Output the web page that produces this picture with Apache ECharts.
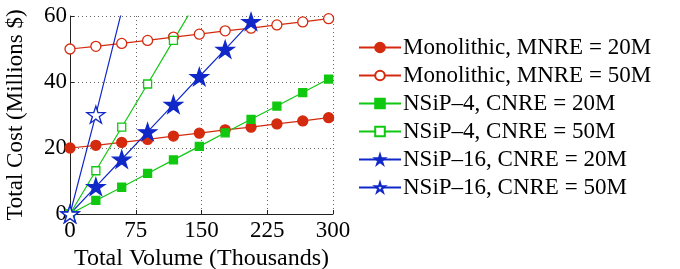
<!DOCTYPE html>
<html><head><meta charset="utf-8">
<script src="https://cdn.jsdelivr.net/npm/echarts@6/dist/echarts.min.js"></script>
<style>html,body{margin:0;padding:0;background:#fff}#c{width:680px;height:269px}</style>
</head><body><div id="c"></div>
<script>
const volumes = [0, 29.5, 59, 88.5, 118, 147.5, 177, 206.5, 236, 265.5, 295];
const mono20 = [20, 20.8, 21.7, 22.6, 23.6, 24.5, 25.5, 26.3, 27.3, 28.2, 29.2];
const mono50 = [50, 50.8, 51.7, 52.6, 53.6, 54.5, 55.5, 56.3, 57.3, 58.2, 59.2];
const nsip4_20 = [0, 4.1, 8.1, 12.3, 16.4, 20.5, 24.6, 28.7, 32.7, 36.8, 40.9];
const nsip4_50 = [0, 13.1, 26.3, 39.4, 52.6, 65.8];
const nsip16_20 = [0, 8.3, 16.6, 24.9, 33.2, 41.6, 49.9, 58.3];
const nsip16_50 = [0, 30.1, 61.5];
const seriesNames = ['Monolithic, MNRE = 20M','Monolithic, MNRE = 50M','NSiP\u20134, CNRE = 20M','NSiP\u20134, CNRE = 50M','NSiP\u201316, CNRE = 20M','NSiP\u201316, CNRE = 50M'];
const xTicks = [0, 75, 150, 225, 300];
const yTicks = [0, 20, 40, 60];

const RED = '#d42a0e', GREEN = '#10c810', BLUE = '#1028c8';
const STAR = 'path://M100,0 L122.45,69.1 L195.1,69.1 L136.3,111.8 L158.8,180.9 L100,138.2 L41.2,180.9 L63.7,111.8 L4.9,69.1 L77.55,69.1 Z';
const FONT = '"Liberation Serif", "DejaVu Serif", serif';

function pairs(ys){ return ys.map((y,i)=>[volumes[i], y]); }
function mk(name, ys, color, symbol, size, filled){
  return {
    name, type:'line', data: pairs(ys), clip:true,
    symbol, symbolSize:size, showSymbol:true,
    lineStyle:{color, width:1.2},
    itemStyle:{color: filled ? color : '#fff', borderColor:color, borderWidth:1.3},
    emphasis:{disabled:true}, animation:false, z: 3
  };
}
const chart = echarts.init(document.getElementById('c'), null, {renderer:'canvas'});
chart.setOption({
  backgroundColor:'#fff',
  animation:false,
  grid:{left:70, top:16, right:347, bottom:55, containLabel:false, outerBoundsMode:'none'},
  legend:{
    orient:'vertical', left:353, top:31,
    itemWidth:42, itemHeight:12, itemGap:5,
    textStyle:{fontFamily:FONT, fontSize:23, color:'#000', padding:[0,0,0,-3]},
    data: seriesNames
  },
  xAxis:{
    type:'value', min:0, max:300, interval:75,
    name:'Total Volume (Thousands)', nameLocation:'middle', nameGap:28,
    nameTextStyle:{fontFamily:FONT, fontSize:24, color:'#000'},
    axisLine:{show:true, onZero:false, lineStyle:{color:'#222', width:1}},
    axisTick:{show:true, inside:true, length:4, lineStyle:{color:'#222'}},
    axisLabel:{fontFamily:FONT, fontSize:23, color:'#000', margin:5,
      formatter:v=> xTicks.includes(v) ? String(v) : ''},
    splitLine:{show:true, lineStyle:{color:'#666', type:[1,3], width:1}}
  },
  yAxis:{
    type:'value', min:0, max:60, interval:20,
    name:'Total Cost (Millions $)', nameLocation:'middle', nameGap:43, nameRotate:90,
    nameTextStyle:{fontFamily:FONT, fontSize:23, color:'#000'},
    axisLine:{show:true, onZero:false, lineStyle:{color:'#222', width:1}},
    axisTick:{show:true, inside:true, length:4, lineStyle:{color:'#222'}},
    axisLabel:{fontFamily:FONT, fontSize:23, color:'#000', margin:3,
      formatter:v=> yTicks.includes(v) ? String(v) : ''},
    splitLine:{show:true, lineStyle:{color:'#666', type:[1,3], width:1}}
  },
  series:[
    mk(seriesNames[0], mono20, RED, 'circle', 10, true),
    mk(seriesNames[1], mono50, RED, 'circle', 10, false),
    mk(seriesNames[2], nsip4_20, GREEN, 'rect', 8, true),
    mk(seriesNames[3], nsip4_50, GREEN, 'rect', 8, false),
    mk(seriesNames[4], nsip16_20, BLUE, STAR, [18,17], true),
    mk(seriesNames[5], nsip16_50, BLUE, STAR, [18,17], false)
  ]
});
</script></body></html>
